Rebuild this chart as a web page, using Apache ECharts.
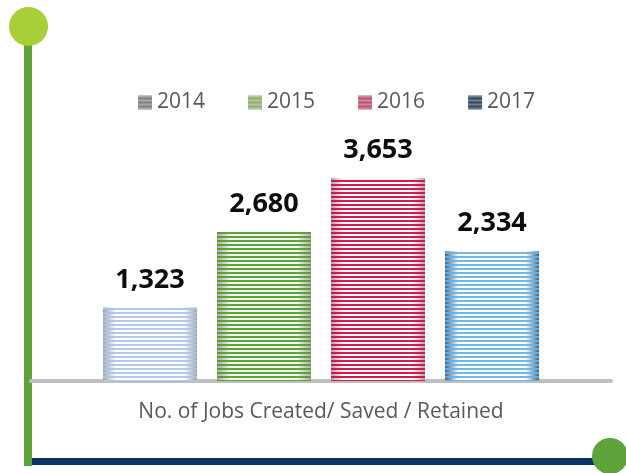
<!DOCTYPE html>
<html>
<head>
<meta charset="utf-8">
<script src="https://cdn.jsdelivr.net/npm/echarts@6/dist/echarts.min.js"></script>
<style>
  html, body { margin: 0; padding: 0; background: #fff; }
  #main { width: 626px; height: 473px; }
</style>
</head>
<body>
<div id="main"></div>
<script>
// data
const categories = ['No. of Jobs Created/ Saved / Retained'];
const years = ['2014', '2015', '2016', '2017'];
const values = [1323, 2680, 3653, 2334];

// stripe / shade colours per year
const stripeColors = ['rgba(170,196,228,0.9)', 'rgba(84,156,44,0.92)', 'rgba(208,16,70,0.95)', 'rgba(100,178,230,0.92)'];
const edgeColors = ['#9ba3ad', '#a6ae9f', '#a9a9a9', '#3d607d'];
const centerColors = ['#ffffff', '#f2f4ef', '#ffffff', '#ffffff'];
// legend icons are darker, greyish
const legendColors = ['#7f8184', '#8fae72', '#b95670', '#34495e'];

const chart = echarts.init(document.getElementById('main'));

function shade(i) {
  return {
    type: 'linear', x: 0, y: 0, x2: 1, y2: 0,
    colorStops: [
      { offset: 0, color: edgeColors[i] },
      { offset: 0.14, color: centerColors[i] },
      { offset: 0.86, color: centerColors[i] },
      { offset: 1, color: edgeColors[i] }
    ]
  };
}

const series = years.map(function (y, i) {
  return {
    name: y,
    type: 'bar',
    barWidth: 94,
    barGap: '21.3%',
    data: [values[i]],
    itemStyle: {
      color: shade(i),
      decal: {
        symbol: 'rect',
        symbolSize: 1,
        dashArrayX: [10, 0],
        dashArrayY: [2, 2],
        rotation: 0,
        color: stripeColors[i]
      }
    },
    label: {
      show: true,
      position: 'top',
      distance: 14,
      fontFamily: 'Open Sans',
      fontWeight: 'bold',
      fontSize: 27,
      color: '#0d0d0d',
      formatter: function (p) { return p.value.toLocaleString('en-US'); }
    }
  };
});

const option = {
  animation: false,
  legend: {
    data: years.map(function (y, i) {
      return {
        name: y,
        itemStyle: {
          color: legendColors[i],
          decal: {
            symbol: 'rect', symbolSize: 1, dashArrayX: [10, 0], dashArrayY: [2, 2],
            rotation: 0, color: 'rgba(255,255,255,0.3)'
          }
        }
      };
    }),
    left: 133,
    top: 87,
    icon: 'rect',
    itemWidth: 14,
    itemHeight: 14,
    itemGap: 43,
    textStyle: { fontFamily: 'Open Sans', fontSize: 21, color: '#595959' }
  },
  grid: { left: 31, right: 15, top: 103, bottom: 92 },
  xAxis: {
    type: 'category',
    data: categories,
    axisTick: { show: false },
    axisLine: { lineStyle: { color: '#bfbfbf', width: 4 } },
    axisLabel: { fontFamily: 'Open Sans', fontSize: 21, color: '#595959', margin: 21 }
  },
  yAxis: {
    type: 'value',
    min: 0,
    max: 5000,
    show: false,
    splitLine: { show: false }
  },
  graphic: [
    { type: 'rect', shape: { x: 24, y: 36, width: 8, height: 430 }, style: { fill: '#5ea33a' } },
    { type: 'circle', shape: { cx: 28.5, cy: 26.5, r: 19.5 }, style: { fill: '#a9cf38' } },
    { type: 'rect', shape: { x: 32, y: 458, width: 570, height: 7 }, style: { fill: '#0c3263' } },
    { type: 'circle', shape: { cx: 610, cy: 456, r: 18 }, style: { fill: '#5ea33a' } }
  ],
  series: series
};

chart.setOption(option);
</script>
</body>
</html>
